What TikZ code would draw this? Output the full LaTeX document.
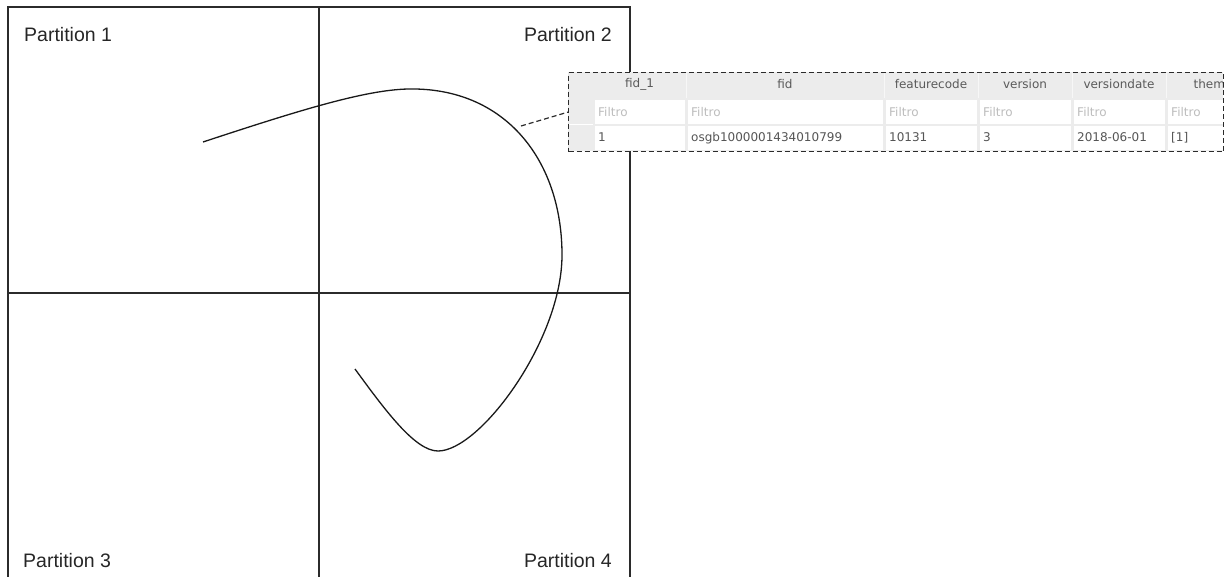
\documentclass[tikz,border=0pt]{standalone}
\usepackage{fontspec}
\setmainfont{Liberation Sans}
\newfontfamily\tblfont{DejaVu Sans}
\usetikzlibrary{positioning}
\definecolor{framegray}{HTML}{2B2B2B}
\definecolor{cellgray}{HTML}{ECECEC}
\definecolor{hdrtext}{HTML}{5A5A5A}
\definecolor{filtertext}{HTML}{BDBDBD}
\definecolor{datatext}{HTML}{555555}

\begin{document}
\begin{tikzpicture}[x=1pt,y=-1pt,
    part/.style={font=\fontsize{19.5}{22}\selectfont, text=black!85, inner sep=0pt},
    hdr/.style={font=\tblfont\fontsize{12}{14}\selectfont, text=hdrtext, inner sep=0pt},
    filt/.style={font=\tblfont\fontsize{12}{14}\selectfont, text=filtertext, inner sep=0pt, anchor=base west},
    val/.style={font=\tblfont\fontsize{12}{14}\selectfont, text=datatext, inner sep=0pt, anchor=base west},
    link/.style={framegray, line width=1.2pt, dash pattern=on 5pt off 3pt}]
    \useasboundingbox (0,0) rectangle (1225,576);

    % Partitions
    \draw[framegray, line width=1.3pt] (8,7) rectangle (630,580);
    \draw[framegray, line width=1.3pt] (319,7) -- (319,580);
    \draw[framegray, line width=1.3pt] (8,293) -- (630,293);
    \node[part, anchor=base west] (p1) at (24,41) {Partition 1};
    \node[part, anchor=base east] (p2) at (612,41) {Partition 2};
    \node[part, anchor=base west] (p3) at (23,567) {Partition 3};
    \node[part, anchor=base east] (p4) at (612,567) {Partition 4};

    % Feature
    \draw[black!90, line width=1.3pt] (203,142)
        .. controls (300,110) and (365,90) .. (408,89)
        .. controls (505,87) and (562,160) .. (562,255)
        .. controls (562,340) and (480,451) .. (438,451)
        .. controls (415,451) and (385,410) .. (355,369);
    \coordinate (tip) at (521,126);

    % Attribute table
    \fill[cellgray] (568,72) rectangle (1223,151);
    \begin{scope}
        \clip (568,72) rectangle (1223,151);
        \draw[white, line width=0.6pt] (568,124.5) -- (593,124.5);
        \foreach \l/\r/\h/\d in {593/686/fid\_1/1, 686/884/fid/osgb1000001434010799,
                884/978/featurecode/10131, 978/1072/version/3,
                1072/1166/versiondate/2018-06-01, 1166/1260/theme/[1]} {
            \draw[white!60!cellgray, line width=1pt] (\r,73) -- (\r,98);
            \fill[white] (\l+1.5,100) rectangle (\r-1,124);
            \fill[white] (\l+1.5,126) rectangle (\r-1,150);
            \node[hdr] (h\l) at ({(\l+\r)/2},84) {\h};
            \node[filt] (f\l) at (\l+5,116) {Filtro};
            \node[val] (v\l) at (\l+5,141) {\d};
        }
    \end{scope}
    \node[draw=framegray, line width=1.2pt, dash pattern=on 5pt off 3pt,
        minimum width=655pt, minimum height=79pt, inner sep=0pt,
        anchor=north west] (tbl) at (568,72) {};
    \draw[link] (tip) -- (tbl.west);
\end{tikzpicture}
\end{document}
